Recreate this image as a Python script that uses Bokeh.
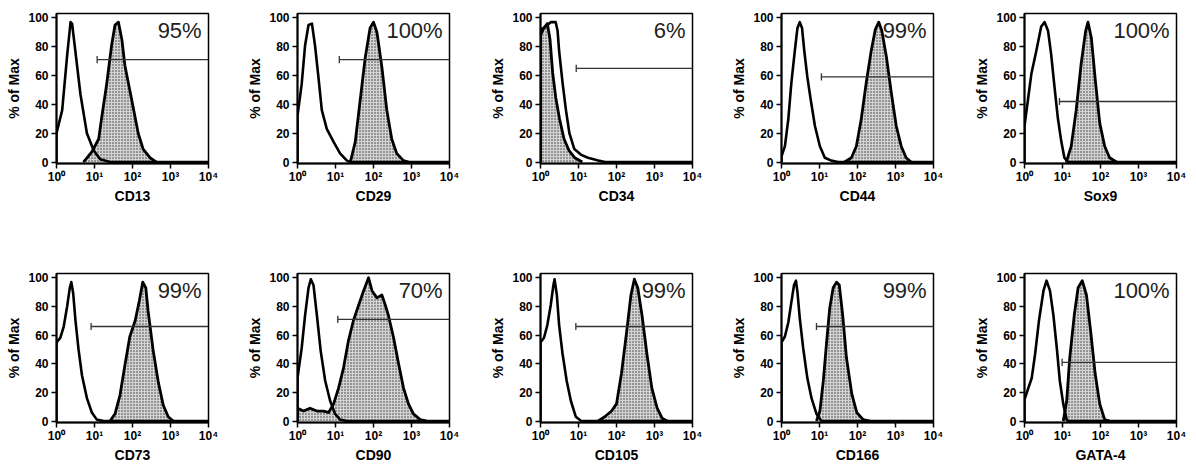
from bokeh.plotting import figure
from bokeh.layouts import column, row
from bokeh.models import FixedTicker, Range1d, Label
from bokeh.embed import file_html
from bokeh.resources import INLINE

# ---------------- data (x in decades of fluorescence, y in % of max) ----------------
markers = ["CD13", "CD29", "CD34", "CD44", "Sox9", "CD73", "CD90", "CD105", "CD166", "GATA-4"]
percents = ["95%", "100%", "6%", "99%", "100%", "99%", "70%", "99%", "99%", "100%"]
gate_start = [1.07, 1.10, 0.94, 1.05, 0.92, 0.91, 1.06, 0.93, 0.92, 0.99]
gate_level = [71, 71, 65, 59, 42, 66, 71, 66, 66, 41]

x_tick_values = [1, 10, 100, 1000, 10000]
x_tick_labels = ["10\u2070", "10\u00b9", "10\u00b2", "10\u00b3", "10\u2074"]
y_tick_values = [0, 20, 40, 60, 80, 100]

cd13_iso_d = [0, 0, 0.15, 0.28, 0.37, 0.41, 0.50, 0.63, 0.80, 0.98, 1.15, 1.41, 4.0]
cd13_iso_v = [0, 20, 36, 74, 97, 96, 76, 47, 20, 8, 2, 0, 0]
cd13_pos_d = [0.71, 0.93, 1.11, 1.19, 1.32, 1.45, 1.54, 1.63, 1.72, 1.80, 1.98, 2.15, 2.28, 2.46, 2.63]
cd13_pos_v = [0, 7, 16, 31, 54, 81, 95, 97, 85, 67, 43, 20, 9, 3, 0]

cd29_iso_d = [0, 0, 0.11, 0.20, 0.29, 0.38, 0.46, 0.55, 0.64, 0.77, 0.95, 1.12, 1.30, 1.39, 4.0]
cd29_iso_v = [0, 32, 54, 81, 95, 96, 81, 59, 36, 23, 14, 6, 1, 0, 0]
cd29_pos_d = [1.39, 1.52, 1.65, 1.78, 1.91, 2.00, 2.09, 2.22, 2.35, 2.48, 2.61, 2.79, 2.92]
cd29_pos_v = [0, 14, 43, 72, 93, 97, 90, 66, 36, 16, 6, 1, 0]

cd34_iso_d = [0, 0, 0.09, 0.18, 0.27, 0.40, 0.45, 0.49, 0.58, 0.67, 0.76, 0.89, 1.07, 1.25, 1.52, 1.70, 4.0]
cd34_iso_v = [0, 92, 93, 95, 97, 97, 91, 77, 55, 36, 20, 9, 5, 3, 1, 0, 0]
cd34_pos_d = [0, 0, 0.09, 0.18, 0.25, 0.32, 0.40, 0.50, 0.62, 0.75, 0.90, 1.10]
cd34_pos_v = [0, 88, 93, 96, 85, 62, 45, 30, 16, 8, 3, 0]

cd44_iso_d = [0, 0, 0.09, 0.18, 0.26, 0.35, 0.42, 0.48, 0.54, 0.60, 0.68, 0.77, 0.88, 1.01, 1.14, 1.31, 1.49, 4.0]
cd44_iso_v = [0, 4, 11, 30, 55, 77, 93, 97, 93, 77, 59, 43, 25, 11, 3, 1, 0, 0]
cd44_pos_d = [1.66, 1.84, 1.97, 2.10, 2.23, 2.36, 2.47, 2.56, 2.64, 2.76, 2.89, 3.02, 3.15, 3.28, 3.41]
cd44_pos_v = [0, 3, 11, 30, 55, 77, 92, 97, 91, 73, 48, 25, 11, 3, 0]

sox9_iso_d = [0, 0, 0.09, 0.18, 0.31, 0.44, 0.53, 0.62, 0.70, 0.79, 0.88, 0.97, 1.05, 1.14, 4.0]
sox9_iso_v = [0, 25, 43, 61, 77, 94, 97, 91, 75, 52, 30, 14, 3, 0, 0]
sox9_pos_d = [1.10, 1.23, 1.36, 1.49, 1.61, 1.67, 1.76, 1.87, 1.98, 2.11, 2.24, 2.42]
sox9_pos_v = [0, 11, 36, 68, 91, 97, 86, 55, 27, 11, 3, 0]

cd73_iso_d = [0, 0, 0.10, 0.19, 0.28, 0.35, 0.39, 0.44, 0.50, 0.58, 0.67, 0.80, 0.93, 1.06, 1.24, 4.0]
cd73_iso_v = [0, 55, 58, 66, 80, 93, 97, 89, 70, 50, 32, 16, 6, 1, 0, 0]
cd73_pos_d = [1.41, 1.54, 1.67, 1.80, 1.93, 2.07, 2.18, 2.27, 2.35, 2.41, 2.54, 2.68, 2.81, 2.94, 3.07]
cd73_pos_v = [0, 5, 18, 39, 59, 70, 84, 97, 93, 77, 50, 27, 11, 3, 0]

cd90_iso_d = [0, 0, 0.11, 0.20, 0.29, 0.35, 0.42, 0.51, 0.61, 0.73, 0.86, 0.99, 1.12, 1.30, 4.0]
cd90_iso_v = [0, 30, 51, 74, 93, 99, 95, 74, 49, 28, 14, 5, 1, 0, 0]
cd90_pos_d = [0, 0, 0.16, 0.33, 0.51, 0.68, 0.82, 0.95, 1.08, 1.21, 1.34, 1.47, 1.61, 1.74, 1.87,
              1.96, 2.09, 2.22, 2.31, 2.39, 2.53, 2.66, 2.79, 2.92, 3.05, 3.23, 3.40]
cd90_pos_v = [0, 9, 7, 9, 7, 7, 6, 12, 23, 37, 56, 70, 81, 91, 100,
              91, 86, 88, 81, 74, 58, 40, 23, 12, 5, 1, 0]

cd105_iso_d = [0, 0, 0.09, 0.18, 0.27, 0.34, 0.37, 0.43, 0.49, 0.58, 0.69, 0.80, 0.93, 1.07, 4.0]
cd105_iso_v = [0, 55, 58, 67, 81, 95, 99, 88, 67, 47, 28, 14, 3, 0, 0]
cd105_pos_d = [1.51, 1.69, 1.87, 2.00, 2.13, 2.27, 2.38, 2.47, 2.56, 2.67, 2.80, 2.93, 3.07, 3.20, 3.33]
cd105_pos_v = [0, 3, 7, 12, 33, 63, 88, 99, 93, 74, 47, 23, 9, 2, 0]

cd166_iso_d = [0, 0, 0.09, 0.18, 0.26, 0.33, 0.38, 0.42, 0.48, 0.57, 0.68, 0.79, 0.92, 1.05, 4.0]
cd166_iso_v = [0, 55, 59, 69, 83, 95, 98, 90, 72, 51, 30, 16, 5, 0, 0]
cd166_pos_d = [0.92, 1.01, 1.10, 1.19, 1.27, 1.36, 1.45, 1.52, 1.61, 1.71, 1.85, 1.98, 2.15, 2.33]
cd166_pos_v = [0, 7, 28, 56, 79, 93, 97, 95, 74, 44, 19, 6, 1, 0]

gata4_iso_d = [0, 0, 0.10, 0.19, 0.28, 0.38, 0.50, 0.58, 0.67, 0.76, 0.85, 0.93, 1.02, 1.11, 1.15, 4.0]
gata4_iso_v = [0, 15, 23, 30, 47, 70, 91, 98, 91, 74, 51, 28, 12, 1, 0, 0]
gata4_pos_d = [1.02, 1.11, 1.19, 1.31, 1.41, 1.52, 1.63, 1.74, 1.86, 1.98, 2.11, 2.24]
gata4_pos_v = [0, 14, 44, 74, 93, 98, 88, 63, 33, 12, 1, 0]

iso_curves = [(cd13_iso_d, cd13_iso_v), (cd29_iso_d, cd29_iso_v), (cd34_iso_d, cd34_iso_v),
              (cd44_iso_d, cd44_iso_v), (sox9_iso_d, sox9_iso_v), (cd73_iso_d, cd73_iso_v),
              (cd90_iso_d, cd90_iso_v), (cd105_iso_d, cd105_iso_v), (cd166_iso_d, cd166_iso_v),
              (gata4_iso_d, gata4_iso_v)]
pos_curves = [(cd13_pos_d, cd13_pos_v), (cd29_pos_d, cd29_pos_v), (cd34_pos_d, cd34_pos_v),
              (cd44_pos_d, cd44_pos_v), (sox9_pos_d, sox9_pos_v), (cd73_pos_d, cd73_pos_v),
              (cd90_pos_d, cd90_pos_v), (cd105_pos_d, cd105_pos_v), (cd166_pos_d, cd166_pos_v),
              (gata4_pos_d, gata4_pos_v)]

# ---------------- layout ----------------
FONT = "Liberation Sans"
col_widths = [241, 243, 241, 243, 226]
LEFT = 56
FRAME_W = 152


def make_panel(i, height, top, bottom):
    col = i % 5
    w = col_widths[col]
    p = figure(x_axis_type="log", x_range=Range1d(1, 10000), y_range=Range1d(-1, 103),
               width=w, height=height,
               min_border_left=LEFT, min_border_right=w - LEFT - FRAME_W,
               min_border_top=top, min_border_bottom=bottom,
               output_backend="svg", toolbar_location=None,
               background_fill_color="white", border_fill_color="white")
    p.outline_line_color = "black"
    p.outline_line_width = 1.5
    p.grid.visible = False

    # stippled positive histogram
    pd_, pv_ = pos_curves[i]
    px = [10 ** d for d in pd_]
    p.varea(x=px, y1=[0] * len(px), y2=pv_, fill_color="#d4d4d4",
            hatch_pattern=".", hatch_color="#333333", hatch_scale=3, hatch_weight=1)
    p.line(x=px, y=pv_, line_color="black", line_width=2.8, line_join="round")

    # isotype control (open)
    idd, iv = iso_curves[i]
    ix = [10 ** d for d in idd]
    p.line(x=ix, y=iv, line_color="black", line_width=2.6, line_join="round")

    # gate marker
    gx = 10 ** gate_start[i]
    p.segment(x0=[gx], y0=[gate_level[i]], x1=[10000], y1=[gate_level[i]],
              line_color="#333333", line_width=1.3)
    p.segment(x0=[gx], y0=[gate_level[i] - 2.5], x1=[gx], y1=[gate_level[i] + 2.5],
              line_color="#333333", line_width=1.3)

    p.add_layout(Label(x=10 ** 3.82, y=91, text=percents[i], text_align="right",
                       text_baseline="middle", text_font=FONT, text_font_size="22px",
                       text_color="#222222"))

    # axes
    p.xaxis.ticker = FixedTicker(ticks=x_tick_values)
    p.xaxis.major_label_overrides = {v: l for v, l in zip(x_tick_values, x_tick_labels)}
    p.yaxis.ticker = FixedTicker(ticks=y_tick_values)
    p.xaxis.axis_label = markers[i]
    p.yaxis.axis_label = "% of Max"
    for ax in (p.xaxis[0], p.yaxis[0]):
        ax.axis_line_color = "black"
        ax.axis_line_width = 2
        ax.major_tick_line_color = "black"
        ax.major_tick_line_width = 1.5
        ax.major_tick_in = 0
        ax.major_tick_out = 5
        ax.minor_tick_line_color = None
        ax.major_label_text_font = FONT
        ax.major_label_text_font_style = "bold"
        ax.major_label_text_font_size = "12px"
        ax.major_label_text_color = "black"
        ax.axis_label_text_font = FONT
        ax.axis_label_text_font_style = "bold"
        ax.axis_label_text_font_size = "14px"
        ax.axis_label_text_color = "black"
    p.xaxis.major_label_standoff = 1
    p.xaxis.axis_label_standoff = 1
    p.yaxis.major_label_standoff = 3
    p.yaxis.axis_label_standoff = 3
    return p


row1 = row([make_panel(i, 262, 13, 99) for i in range(5)])
row2 = row([make_panel(i, 203, 11, 42) for i in range(5, 10)])
layout = column(row1, row2)

open("out.html", "w").write(file_html(layout, INLINE))
